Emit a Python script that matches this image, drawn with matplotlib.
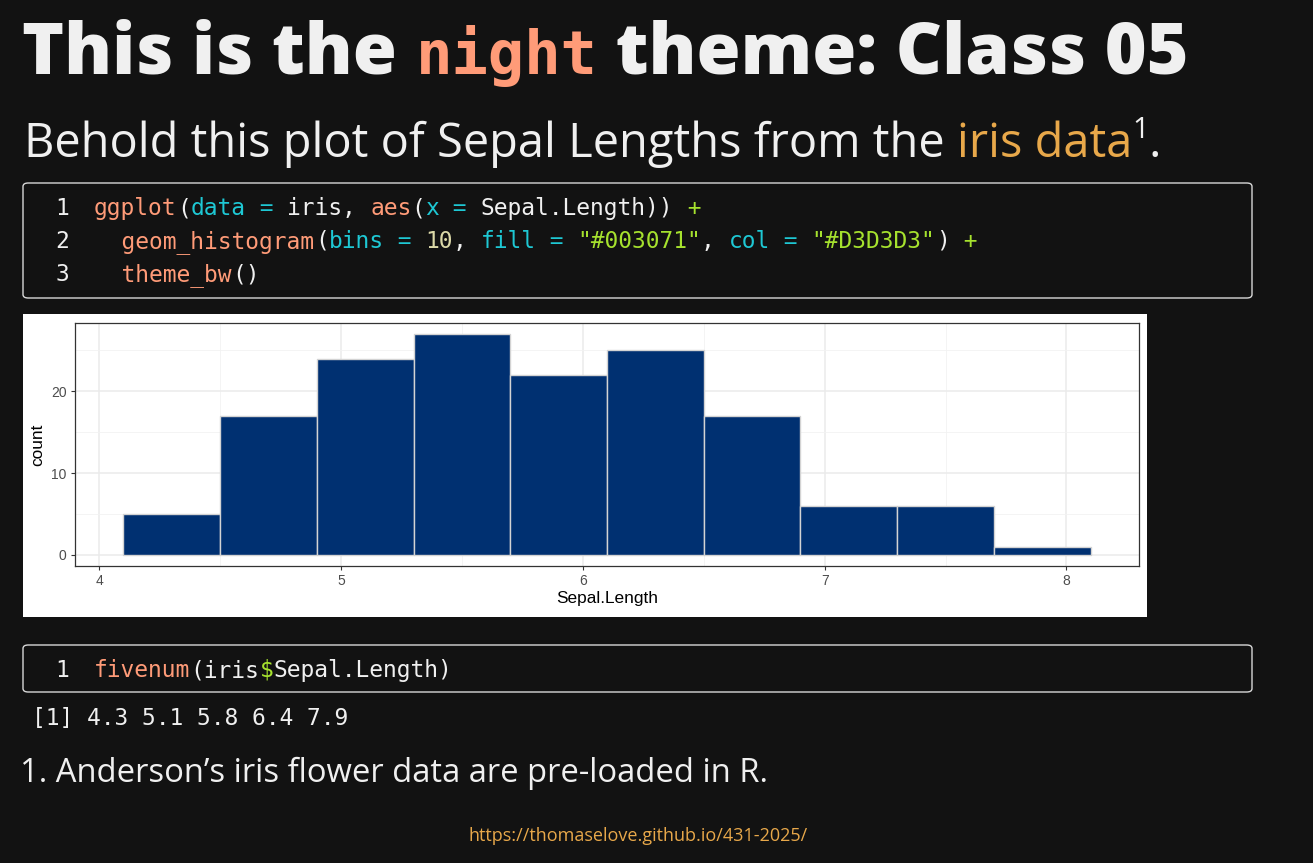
import matplotlib
matplotlib.use('Agg')
import matplotlib.pyplot as plt
from matplotlib.patches import FancyBboxPatch, Rectangle
import numpy as np

# ---------------- data ----------------
bin_edges = [4.1, 4.5, 4.9, 5.3, 5.7, 6.1, 6.5, 6.9, 7.3, 7.7, 8.1]
counts = [5, 17, 24, 27, 22, 25, 17, 6, 6, 1]
x_ticks = [4, 5, 6, 7, 8]
y_ticks = [0, 10, 20]
x_label = "Sepal.Length"
y_label = "count"
fivenum_values = ["4.3", "5.1", "5.8", "6.4", "7.9"]

# ---------------- styling ----------------
W, H = 1313, 863
BG = '#121212'
WHITE = '#f0f0f0'
SALMON = '#ff9b78'
CYAN = '#1ec8d4'
GREEN = '#a6e22e'
NUM = '#dcd9a8'
ORANGE = '#e8a84a'
MONO = 'DejaVu Sans Mono'
SANS = 'Open Sans'

fig = plt.figure(figsize=(W / 100, H / 100), dpi=100, facecolor=BG)
renderer = fig.canvas.get_renderer()


def fx(x):
    return x / W


def fy(y):
    return 1 - y / H


def text_width(s, **kw):
    t = fig.text(0, 0, s, **kw)
    w = t.get_window_extent(renderer).width
    t.remove()
    return w


def run_width(s, **kw):
    return text_width('|' + s + '|', **kw) - text_width('||', **kw)


def draw_runs(x, y, runs):
    for s, kw, dy in runs:
        fig.text(fx(x), fy(y - dy), s, va='baseline', ha='left', **kw)
        x += run_width(s, **kw)
    return x


def fit_runs(x0, x1, y, runs):
    total = sum(run_width(s, **kw) for s, kw, dy in runs)
    f = (x1 - x0) / total
    new = []
    for s, kw, dy in runs:
        kw = dict(kw)
        kw['fontsize'] = kw['fontsize'] * f
        new.append((s, kw, dy * f))
    draw_runs(x0, y, new)


# ---------------- title ----------------
tkw = dict(fontsize=52, family=SANS, weight='heavy', color=WHITE)
nkw = dict(fontsize=44, family=MONO, weight='bold', color=SALMON)
fit_runs(22, 1188, 74, [("This is the ", tkw, 0), ("night", nkw, 0),
                        (" theme: Class 05", tkw, 0)])

# ---------------- subtitle ----------------
skw = dict(fontsize=36, family=SANS, weight='normal', color=WHITE)
okw = dict(skw, color=ORANGE)
supkw = dict(skw, fontsize=22)
fit_runs(24, 1160, 157, [("Behold this plot of Sepal Lengths from the ", skw, 0),
                         ("iris data", okw, 0), ("1", supkw, 20), (".", skw, 0)])

# ---------------- code boxes ----------------
def code_box(x0, y0, x1, y1):
    p = FancyBboxPatch((fx(x0), fy(y1)), fx(x1) - fx(x0), fy(y0) - fy(y1),
                       boxstyle="round,pad=0,rounding_size=0.004",
                       transform=fig.transFigure, facecolor=BG,
                       edgecolor='#d8d8d8', linewidth=1.0, zorder=0)
    fig.patches.append(p)


CW = 13.8  # px per mono char
ckw = dict(fontsize=CW / 0.602 * 0.72, family=MONO)


def code_line(num, y, runs, x0=94):
    fig.text(fx(69), fy(y), num, ha='right', va='baseline', color=WHITE, **ckw)
    n = 0
    for s, col in runs:
        fig.text(fx(x0 + n * CW), fy(y), s, ha='left', va='baseline', color=col, **ckw)
        n += len(s)


code_box(23, 183, 1252, 298)
code_line("1", 215, [("ggplot", SALMON), ("(", WHITE), ("data", CYAN), (" = ", CYAN),
                     ("iris, ", WHITE), ("aes", SALMON), ("(", WHITE), ("x", CYAN),
                     (" = ", CYAN), ("Sepal.Length))", WHITE), (" +", GREEN)])
code_line("2", 248, [("  geom_histogram", SALMON), ("(", WHITE), ("bins", CYAN),
                     (" = ", CYAN), ("10", NUM), (", ", WHITE), ("fill", CYAN),
                     (" = ", CYAN), ('"#003071"', GREEN), (", ", WHITE), ("col", CYAN),
                     (" = ", CYAN), ('"#D3D3D3"', GREEN), (")", WHITE), (" +", GREEN)])
code_line("3", 281, [("  theme_bw", SALMON), ("()", WHITE)])

code_box(23, 645, 1252, 692)
code_line("1", 677, [("fivenum", SALMON), ("(iris", WHITE), ("$", GREEN),
                     ("Sepal.Length)", WHITE)])

fig.text(fx(32), fy(725), "[1] " + " ".join(fivenum_values), ha='left',
         va='baseline', color=WHITE, **ckw)

# ---------------- footnote + url ----------------
fkw = dict(fontsize=22, family=SANS, color=WHITE)
fit_runs(20, 768, 782, [("1. Anderson’s iris flower data are pre-loaded in R.", fkw, 0)])
ukw = dict(fontsize=12, family=SANS, color=ORANGE)
fit_runs(468, 807, 841, [("https://thomaselove.github.io/431-2025/", ukw, 0)])

# ---------------- embedded ggplot image ----------------
fig.patches.append(Rectangle((fx(23), fy(617)), fx(1147) - fx(23), fy(314) - fy(617),
                             transform=fig.transFigure, facecolor='white',
                             edgecolor='none', zorder=0))

ax = fig.add_axes([fx(75), fy(566), fx(1139) - fx(75), fy(323) - fy(566)])
ax.set_zorder(5)
ax.set_facecolor('white')
left = bin_edges[:-1]
widths = np.diff(bin_edges)
ax.bar(left, counts, width=widths, align='edge', color='#003071',
       edgecolor='#D3D3D3', linewidth=1.0, zorder=3)
ax.set_xlim(3.9, 8.3)
ax.set_ylim(-1.35, 28.35)
ax.set_xticks(x_ticks)
ax.set_yticks(y_ticks)
ax.set_xticks([4.5, 5.5, 6.5, 7.5], minor=True)
ax.set_yticks([5, 15, 25], minor=True)
ax.grid(which='major', color='#ebebeb', linewidth=1.1, zorder=0)
ax.grid(which='minor', color='#f2f2f2', linewidth=0.6, zorder=0)
ax.set_axisbelow(True)
ax.tick_params(which='minor', length=0)
ax.tick_params(which='major', length=3, width=0.8, color='#333333',
               labelcolor='#4d4d4d', labelsize=10, pad=3)
for lab in ax.get_xticklabels() + ax.get_yticklabels():
    lab.set_family('Liberation Sans')
for sp in ax.spines.values():
    sp.set_color('#333333')
    sp.set_linewidth(0.9)
ax.set_xlabel(x_label, family='Liberation Sans', fontsize=12.4, color='black', labelpad=2)
ax.set_ylabel(y_label, family='Liberation Sans', fontsize=12.4, color='black', labelpad=4)

fig.savefig('out.png', dpi=100, facecolor=BG)
